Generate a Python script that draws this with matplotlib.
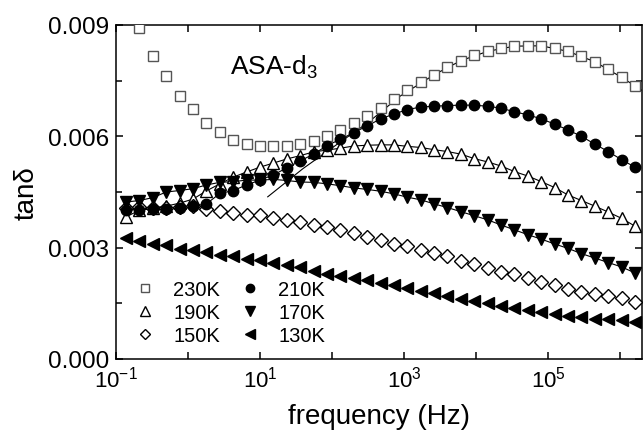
import matplotlib
matplotlib.use("Agg")
import matplotlib.pyplot as plt
from matplotlib.ticker import MultipleLocator, FormatStrFormatter, LogLocator, FuncFormatter, NullLocator
import numpy as np

plt.rcParams['font.family'] = ['Liberation Sans', 'DejaVu Sans']
plt.rcParams['mathtext.fontset'] = 'custom'
plt.rcParams['mathtext.rm'] = 'Liberation Sans'
plt.rcParams['mathtext.it'] = 'Liberation Sans:italic'
plt.rcParams['axes.unicode_minus'] = False

# measurement frequencies (Hz)
freq = [0.138, 0.212, 0.325, 0.499, 0.766, 1.175, 1.803, 2.767, 4.246, 6.516,
        10.0, 15.35, 23.55, 36.14, 55.46, 85.11, 130.6, 200.4, 307.6, 472.1,
        724.4, 1112, 1706, 2618, 4018, 6166, 9462, 14521, 22284, 34198,
        52481, 80538, 123595, 189671, 291072, 446684, 685488, 1051962, 1614359]

tan_230 = [0.0100, 0.00891, 0.00816, 0.00762, 0.00709, 0.00673, 0.00637, 0.00612, 0.00591, 0.00580,
           0.00575, 0.00573, 0.00575, 0.00579, 0.00588, 0.00602, 0.00617, 0.00635, 0.00656, 0.00677,
           0.00701, 0.00725, 0.00746, 0.00766, 0.00786, 0.00804, 0.00819, 0.00829, 0.00838, 0.00843,
           0.00844, 0.00843, 0.00838, 0.00829, 0.00817, 0.00801, 0.00782, 0.00759, 0.00735]
tan_210 = [0.00402, 0.00402, 0.00404, 0.00404, 0.00407, 0.00412, 0.00418, 0.00446, 0.00454, 0.00469,
           0.00482, 0.00496, 0.00515, 0.00534, 0.00552, 0.00575, 0.00592, 0.00610, 0.00628, 0.00647,
           0.00660, 0.00672, 0.00679, 0.00681, 0.00683, 0.00684, 0.00684, 0.00681, 0.00676, 0.00666,
           0.00658, 0.00647, 0.00633, 0.00617, 0.00600, 0.00579, 0.00559, 0.00537, 0.00517]
tan_190 = [0.00383, 0.00401, 0.00407, 0.00412, 0.00420, 0.00431, 0.00453, 0.00472, 0.00490, 0.00504,
           0.00517, 0.00528, 0.00539, 0.00548, 0.00558, 0.00563, 0.00568, 0.00574, 0.00576, 0.00577,
           0.00577, 0.00573, 0.00570, 0.00564, 0.00559, 0.00552, 0.00540, 0.00531, 0.00520, 0.00505,
           0.00493, 0.00478, 0.00462, 0.00442, 0.00427, 0.00412, 0.00396, 0.00379, 0.00358]
tan_170 = [0.00423, 0.00427, 0.00435, 0.00450, 0.00454, 0.00459, 0.00469, 0.00476, 0.00478, 0.00482,
           0.00482, 0.00484, 0.00481, 0.00477, 0.00476, 0.00472, 0.00467, 0.00461, 0.00457, 0.00452,
           0.00445, 0.00436, 0.00429, 0.00418, 0.00408, 0.00397, 0.00386, 0.00375, 0.00361, 0.00348,
           0.00335, 0.00323, 0.00310, 0.00298, 0.00284, 0.00272, 0.00260, 0.00248, 0.00232]
tan_150 = [0.00407, 0.00410, 0.00408, 0.00407, 0.00410, 0.00411, 0.00404, 0.00399, 0.00393, 0.00389,
           0.00387, 0.00380, 0.00375, 0.00368, 0.00361, 0.00356, 0.00348, 0.00340, 0.00330, 0.00321,
           0.00311, 0.00304, 0.00295, 0.00286, 0.00277, 0.00265, 0.00256, 0.00246, 0.00235, 0.00228,
           0.00219, 0.00208, 0.00199, 0.00189, 0.00181, 0.00175, 0.00169, 0.00164, 0.00154]
tan_130 = [0.00325, 0.00319, 0.00310, 0.00306, 0.00296, 0.00295, 0.00288, 0.00280, 0.00277, 0.00270,
           0.00266, 0.00259, 0.00253, 0.00247, 0.00238, 0.00229, 0.00224, 0.00218, 0.00212, 0.00205,
           0.00199, 0.00191, 0.00184, 0.00178, 0.00171, 0.00163, 0.00156, 0.00150, 0.00142, 0.00137,
           0.00133, 0.00126, 0.00121, 0.00117, 0.00112, 0.00109, 0.00108, 0.00105, 0.00101]

# fit curve for 230K
fit_f = [12.8, 39.5, 129, 316, 879, 2618, 6166, 14521, 34198, 80538, 189671, 446684, 1051962, 2090000]
fit_230 = [0.00437, 0.00513, 0.00584, 0.00637, 0.00708, 0.00766, 0.00804, 0.00829, 0.00843,
           0.00844, 0.00829, 0.00801, 0.00759, 0.00722]

fig = plt.figure(figsize=(6.43, 4.35), dpi=100)
ax = fig.add_axes([116/643, 1-360/435, 526/643, 334/435])

ax.plot(fit_f, fit_230, '-', color='black', lw=0.8, zorder=2)
for ys in (tan_210, tan_190, tan_170):
    ax.plot(freq, ys, '-', color='black', lw=0.8, zorder=2)

ax.plot(freq, tan_230, 's', ms=7.5, mfc='white', mec='#555555', mew=1.0, ls='none', label='230K', zorder=3)
ax.plot(freq, tan_190, '^', ms=9, mfc='white', mec='black', mew=1.0, ls='none', label='190K', zorder=3)
ax.plot(freq, tan_150, 'D', ms=7, mfc='white', mec='black', mew=1.0, ls='none', label='150K', zorder=3)
ax.plot(freq, tan_210, 'o', ms=7.5, mfc='black', mec='black', ls='none', label='210K', zorder=3)
ax.plot(freq, tan_170, 'v', ms=9, mfc='black', mec='black', ls='none', label='170K', zorder=3)
ax.plot(freq, tan_130, '<', ms=9, mfc='black', mec='black', ls='none', label='130K', zorder=3)

ax.set_xscale('log')
ax.set_xlim(0.1, 2.02e6)
ax.set_ylim(0, 0.009)

ax.xaxis.set_major_locator(LogLocator(base=10, subs=(1.0,), numticks=20))
ax.xaxis.set_minor_locator(NullLocator())
ax.xaxis.set_major_formatter(FuncFormatter(
    lambda v, p: '$10^{%d}$' % round(np.log10(v)) if round(np.log10(v)) % 2 else ''))
ax.yaxis.set_major_locator(MultipleLocator(0.003))
ax.yaxis.set_minor_locator(MultipleLocator(0.0015))
ax.yaxis.set_major_formatter(FormatStrFormatter('%.3f'))

ax.tick_params(which='both', direction='in', top=True, right=True, width=1.1)
ax.tick_params(which='major', length=5, pad=4)
ax.tick_params(axis='x', which='major', labelsize=16, pad=5)
ax.tick_params(axis='y', which='major', labelsize=17.5, pad=5)
ax.tick_params(which='minor', length=4)
for s in ax.spines.values():
    s.set_linewidth(1.1)

ax.set_xlabel('frequency (Hz)', fontsize=20, labelpad=8)
ax.set_ylabel('tanδ', fontsize=20, labelpad=6)

ax.text(0.216, 0.855, 'ASA-d$_3$', transform=ax.transAxes, fontsize=19)

ax.legend(loc='center left', bbox_to_anchor=(0.036, 0.14), ncol=2, frameon=False,
          fontsize=14.5, markerscale=0.8, handlelength=1.0, handletextpad=0.9,
          columnspacing=1.0, labelspacing=0.2, borderpad=0, borderaxespad=0)

fig.savefig('out.png', dpi=100)
